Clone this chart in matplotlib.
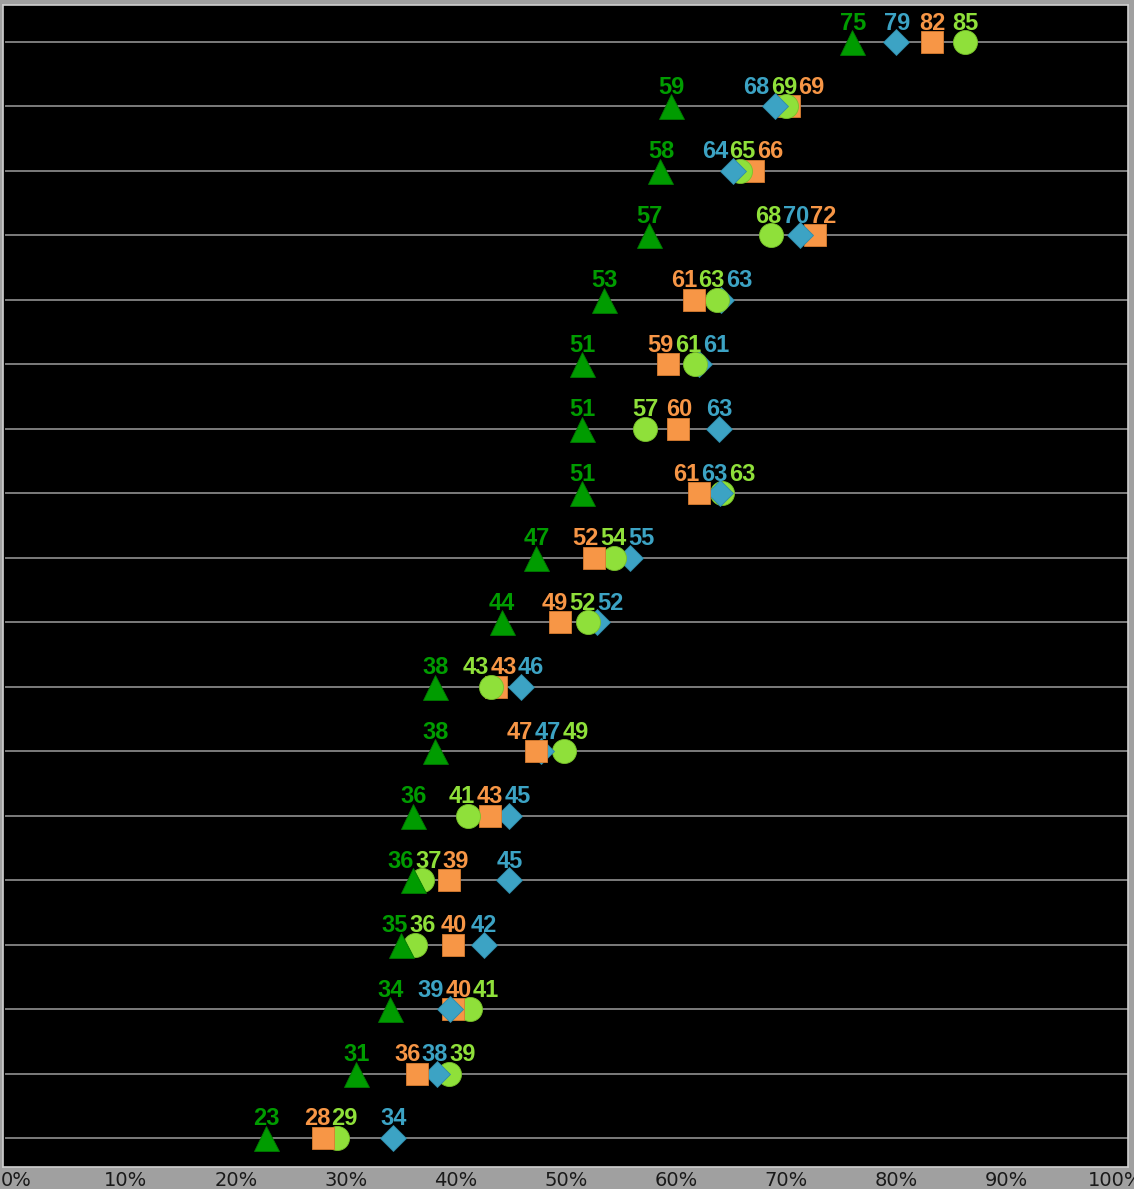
import matplotlib
matplotlib.use("Agg")
import matplotlib.pyplot as plt

# ---- data (rows top to bottom) ----
tri_vals  = [75.0, 58.9, 58.0, 57.0, 53.0, 51.0, 51.0, 51.0, 47.0, 43.9, 38.0, 38.0, 36.0, 36.0, 35.0, 34.0, 31.0, 23.0]
dia_vals  = [78.9, 68.2, 64.4, 70.4, 63.4, 61.4, 63.2, 63.3, 55.3, 52.4, 45.6, 47.4, 44.6, 44.6, 42.3, 39.3, 38.2, 34.3]
sq_vals   = [82.1, 69.4, 66.2, 71.7, 61.0, 58.7, 59.6, 61.4, 52.1, 49.1, 43.4, 47.0, 42.9, 39.2, 39.6, 39.6, 36.4, 28.1]
circ_vals = [85.0, 69.1, 65.1, 67.8, 63.0, 61.1, 56.6, 63.45, 53.9, 51.6, 43.0, 49.4, 40.9, 36.8, 36.2, 41.1, 39.2, 29.3]
tick_vals = [0, 10, 20, 30, 40, 50, 60, 70, 80, 90, 100]
tick_labels = [f"{t}%" for t in tick_vals]

series = [
    # values, marker, size, face colour, edge colour
    (tri_vals,  "^", 18.0, "#009c00", "#007a00"),
    (dia_vals,  "D", 13.2, "#3ca3c4", "#2f8aa8"),
    (sq_vals,   "s", 15.5, "#f79646", "#d97d30"),
    (circ_vals, "o", 17.3, "#8fe03a", "#78c22a"),
]

W, H = 1134, 1189
fig = plt.figure(figsize=(W / 100, H / 100), dpi=100)
fig.patch.set_facecolor("#a0a0a0")

# main plot area (pixels: x 3..1128, y 5..1167)
ax = fig.add_axes([3 / W, 1 - 1167 / H, (1128 - 3) / W, (1167 - 5) / H])
ax.set_facecolor("black")
for sp in ax.spines.values():
    sp.set_color("#cfcfcf")
    sp.set_linewidth(1.2)
ax.set_xticks([])
ax.set_yticks([])

n = len(tri_vals)
ax.set_xlim(-0.34, 99.49)
ax.set_ylim(17.45, -0.574)

for i in range(n):
    ax.axhline(i, xmin=0.003, xmax=1, color="#7c7c7c", lw=1.4, zorder=1)

# markers: leftmost point drawn on top
for vals, mk, ms, fc, ec in series:
    for i, v in enumerate(vals):
        ax.plot([v], [i], linestyle="none", marker=mk, markersize=ms,
                markerfacecolor=fc, markeredgecolor=ec, markeredgewidth=0.6,
                zorder=10 + (100 - v) / 100.0)

# labels with simple de-overlap
sep = 2.45
for i in range(n):
    items = sorted([(vals[i], fc) for vals, mk, ms, fc, ec in series], key=lambda t: t[0])
    pos = [t[0] for t in items]
    for _ in range(300):
        for j in range(len(pos) - 1):
            d = pos[j + 1] - pos[j]
            if d < sep:
                shift = (sep - d) / 2
                pos[j] -= shift
                pos[j + 1] += shift
    for (v, fc), p in zip(items, pos):
        ax.annotate(f"{v:.0f}", xy=(p, i), xytext=(0.5, 9), textcoords="offset points",
                    ha="center", va="baseline", color=fc, fontsize=17,
                    fontweight="bold", family=["Liberation Sans", "DejaVu Sans"],
                    zorder=30)

# bottom tick-label band
axb = fig.add_axes([0, 0, 1, (H - 1168) / H])
axb.set_facecolor("#a0a0a0")
for sp in axb.spines.values():
    sp.set_visible(False)
axb.set_xticks([])
axb.set_yticks([])
axb.set_xlim(-16 / 11, (W - 16) / 11)
axb.set_ylim(0, 1)
for t, lab in zip(tick_vals, tick_labels):
    axb.text(t, 0.42, lab, ha="center", va="center", fontsize=14,
             color="#1a1a1a", family="DejaVu Sans")

fig.savefig("out.png", dpi=100, facecolor=fig.get_facecolor())
